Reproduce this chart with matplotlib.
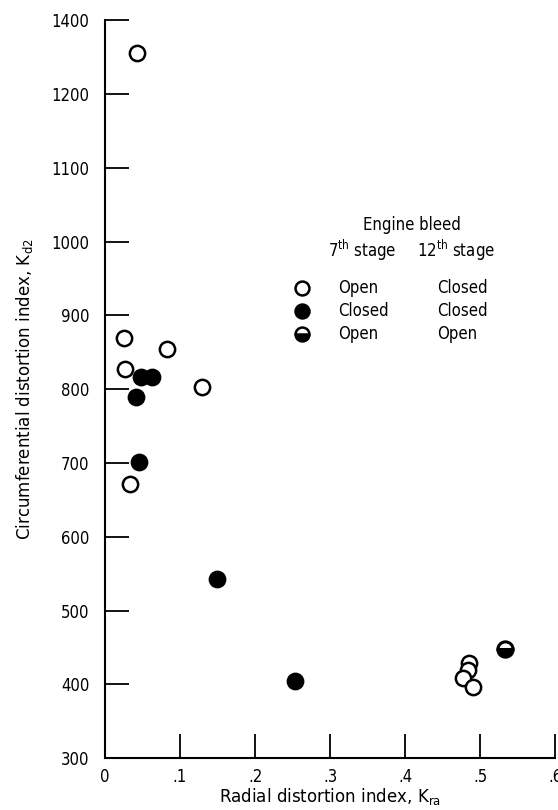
import matplotlib.pyplot as plt

plt.rcParams['font.family'] = ['DejaVu Sans']
plt.rcParams['font.stretch'] = 'condensed'

# Dados
# 7th open / 12th closed (circulos abertos)
kra_aberto = [0.043, 0.025, 0.083, 0.027, 0.130, 0.033, 0.485, 0.484, 0.477, 0.490]
kd2_aberto = [1255, 870, 855, 827, 803, 671, 429, 420, 408, 396]
# 7th closed / 12th closed (circulos cheios)
kra_fechado = [0.048, 0.063, 0.041, 0.046, 0.149, 0.253]
kd2_fechado = [816, 817, 789, 702, 543, 405]
# 7th open / 12th open (meio cheio)
kra_meio = [0.533]
kd2_meio = [448]

xticks = [0, 0.1, 0.2, 0.3, 0.4, 0.5, 0.6]
xticklabels = ['0', '.1', '.2', '.3', '.4', '.5', '.6']
yticks = [300, 400, 500, 600, 700, 800, 900, 1000, 1100, 1200, 1300]
yticklabels = ['300', '400', '500', '600', '700', '800', '900', '1000', '1100', '1200', '1400']

fig = plt.figure(figsize=(5.58, 8.10), dpi=100)
ax = fig.add_axes([0.188, 0.064, 0.807, 0.911])

ms = 11
ax.plot(kra_aberto, kd2_aberto, 'o', ms=ms, mfc='white', mec='black', mew=1.8, ls='none')
ax.plot(kra_fechado, kd2_fechado, 'o', ms=ms, mfc='black', mec='black', mew=1.8, ls='none')
ax.plot(kra_meio, kd2_meio, 'o', ms=ms, mfc='black', mfcalt='white', fillstyle='bottom',
        mec='black', mew=2.2, ls='none')

ax.set_xlim(0, 0.6)
ax.set_ylim(300, 1300)
ax.set_xticks(xticks)
ax.set_xticklabels(xticklabels)
ax.set_yticks(yticks)
ax.set_yticklabels(yticklabels)
ax.tick_params(direction='in', length=17, width=1.3, labelsize=12)
ax.tick_params(axis='y', pad=11)
ax.tick_params(axis='x', pad=7)
for lado in ['top', 'right']:
    ax.spines[lado].set_visible(False)
for lado in ['left', 'bottom']:
    ax.spines[lado].set_linewidth(1.5)

ax.set_xlabel('Radial distortion index, K$_{\\mathregular{ra}}$', fontsize=13.3, labelpad=0)
ax.set_ylabel('Circumferential distortion index, K$_{\\mathregular{d2}}$', fontsize=13.3,
              labelpad=12)

# Legenda montada a mao
tr = ax.transAxes
ax.text(0.682, 0.722, 'Engine bleed', transform=tr, fontsize=12, ha='center', va='center')
ax.text(0.571, 0.688, '7$^{\\mathregular{th}}$ stage', transform=tr, fontsize=12,
        ha='center', va='center')
ax.text(0.78, 0.688, '12$^{\\mathregular{th}}$ stage', transform=tr, fontsize=12,
        ha='center', va='center')
linhas = [('Open', 'Closed', 'white', 'full'), ('Closed', 'Closed', 'black', 'full'),
          ('Open', 'Open', 'black', 'bottom')]
linhas_y = [0.637, 0.606, 0.575]
for (s7, s12, cor, fs), yy in zip(linhas, linhas_y):
    ax.plot([0.438], [yy], 'o', transform=tr, ms=10, mfc=cor, mfcalt='white', fillstyle=fs,
            mec='black', mew=1.8, clip_on=False)
    ax.text(0.518, yy, s7, transform=tr, fontsize=12, va='center')
    ax.text(0.738, yy, s12, transform=tr, fontsize=12, va='center')

fig.savefig('out.png', dpi=100)
